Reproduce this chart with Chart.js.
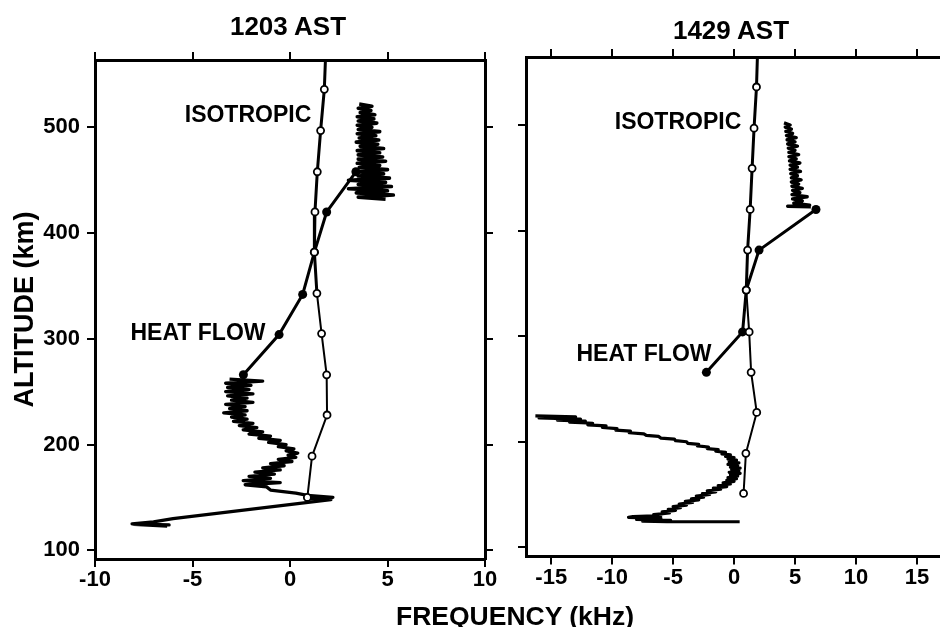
<!DOCTYPE html>
<html>
<head>
<meta charset="utf-8">
<title>Isotropic and heat flow frequency profiles</title>
<script src="https://cdn.jsdelivr.net/npm/chart.js@4.4.1/dist/chart.umd.min.js"></script>
<style>
  body { margin: 0; background: #fff; width: 945px; height: 627px; overflow: hidden; position: relative;
         font-family: "Liberation Sans", Arial, sans-serif; font-weight: bold; color: #000; }
  canvas { position: absolute; top: 0; }
  .lbl { position: absolute; line-height: 1; white-space: nowrap; transform: translate(-50%, -50%); }
</style>
</head>
<body>
<canvas id="chartLeft" width="520" height="627" style="left:0"></canvas>
<canvas id="chartRight" width="445" height="627" style="left:500px"></canvas>

<div class="lbl" style="left:288px; top:25.5px; font-size:26px">1203 AST</div>
<div class="lbl" style="left:731px; top:30px; font-size:26px">1429 AST</div>
<div class="lbl" style="left:515px; top:616px; font-size:26.5px">FREQUENCY (kHz)</div>
<div class="lbl" style="left:248px; top:113.5px; font-size:23px">ISOTROPIC</div>
<div class="lbl" style="left:198px; top:331.5px; font-size:23px">HEAT FLOW</div>
<div class="lbl" style="left:678px; top:121px; font-size:23px">ISOTROPIC</div>
<div class="lbl" style="left:644px; top:353px; font-size:23px">HEAT FLOW</div>

<script>
// ---- 1203 AST (left panel) ----
const isoAltL  = [570, 536, 497, 458, 420, 382, 343, 305, 266, 228, 189, 150];
const isoFreqL = [1.83, 1.76, 1.57, 1.40, 1.28, 1.25, 1.38, 1.62, 1.88, 1.90, 1.13, 0.89];

const hfAltL  = [458, 420, 382, 342, 304, 266];
const hfFreqL = [3.38, 1.88, 1.25, 0.65, -0.56, -2.39];

// measured trace above the heat flow points
const traceAltL1  = [522, 520, 518, 516, 514, 512, 510, 508, 506, 504, 502, 500, 498, 496, 494, 492,
                     490, 488, 486, 484, 482, 480, 478, 476, 474, 472, 470, 468, 466, 464, 462, 460,
                     458, 456, 454, 452, 450, 448, 446, 444, 442, 440, 438, 436, 434, 432];
const traceFreqL1 = [3.55, 4.2, 3.5, 4.15, 3.6, 4.35, 3.45, 4.3, 3.5, 4.45, 3.45, 4.2, 3.5, 4.6, 3.45, 4.4,
                     3.55, 4.55, 3.4, 4.5, 3.6, 4.8, 3.45, 4.6, 3.5, 4.75, 3.5, 4.9, 3.45, 4.6, 3.55, 5.0,
                     3.4, 4.8, 3.5, 5.1, 3.0, 4.9, 3.5, 5.2, 3.0, 5.0, 3.4, 5.3, 3.5, 4.9];

// measured trace below the heat flow points
const traceAltL2  = [262, 260, 258, 256, 254, 252, 250, 248, 246, 244, 242, 240, 238, 236, 234, 232,
                     230, 228, 226, 224, 222, 220, 218, 216, 214, 212, 210, 208, 206, 204, 202, 200,
                     198, 196, 194, 192, 190, 188, 186, 184, 182, 180, 178, 176, 174, 172, 170, 168,
                     166, 164, 162, 160, 157, 154, 152, 150, 149, 148, 130, 127, 125, 124, 124.5, 123];
const traceFreqL2 = [-3.1, -1.4, -3.3, -2.0, -3.2, -2.1, -3.3, -1.9, -3.2, -2.2, -3.0, -1.9, -3.3, -2.3, -3.1, -2.2,
                     -3.4, -2.3, -3.0, -2.2, -2.9, -1.9, -2.6, -1.7, -2.4, -1.4, -2.1, -1.0, -1.6, -0.5, -1.1, -0.2,
                     -0.6, 0.2, -0.2, 0.4, -0.1, 0.3, -0.6, 0.1, -1.0, -0.3, -1.4, -0.5, -1.8, -0.8, -2.1, -1.0,
                     -2.4, -0.5, -2.3, -1.2, -1.0, 0.3, 0.9, 2.2, 1.0, 2.1, -6.0, -7.0, -8.1, -6.2, -8.0, -6.3];

// ---- 1429 AST (right panel) ----
const isoAltR  = [570, 536, 497, 459, 420, 381.5, 343.6, 304, 265.7, 227.8, 189, 151];
const isoFreqR = [1.93, 1.84, 1.64, 1.48, 1.32, 1.11, 1.00, 1.24, 1.40, 1.86, 0.97, 0.78];

const hfAltR  = [420, 381.5, 343.6, 304, 265.7];
const hfFreqR = [6.72, 2.05, 1.00, 0.70, -2.27];

const traceAltR1  = [502, 500, 498, 496, 494, 492, 490, 488, 486, 484, 482, 480, 478, 476, 474, 472,
                     470, 468, 466, 464, 462, 460, 458, 456, 454, 452, 450, 448, 446, 444, 442, 440,
                     438, 436, 434, 432, 430, 428, 426, 424, 423, 422.5];
const traceFreqR1 = [4.1, 4.6, 4.2, 4.7, 4.25, 4.8, 4.3, 5.1, 4.35, 5.0, 4.4, 5.2, 4.45, 5.0, 4.5, 5.3,
                     4.5, 5.1, 4.55, 5.4, 4.6, 5.2, 4.6, 5.45, 4.65, 5.2, 4.7, 5.5, 4.7, 5.3, 4.75, 5.6,
                     4.8, 5.4, 4.75, 6.0, 4.8, 5.6, 4.9, 6.2, 4.4, 6.3];

const traceAltR2  = [224.5, 223.5, 222.5, 221.5, 220.5, 219.5, 218.5, 217.5, 216, 215, 213.5, 212.5, 211, 210,
                     208.5, 207.5, 206, 205, 203.5, 202.5, 201, 200, 198.5, 197.5, 196, 195, 193.5, 192.5,
                     191, 190, 188.5, 187.5, 186, 185, 183.5, 182.5, 181, 180, 178.5, 177.5, 176, 175,
                     173.5, 172.5, 171, 170, 168.5, 167.5, 166, 165, 163.5, 162.5, 161, 160, 158.5, 157.5,
                     156, 155, 153.5, 152.5, 151, 150, 148.5, 147.5, 146, 145, 143.5, 142.5, 141, 140,
                     138.5, 137.5, 136, 135, 133.5, 132.5, 131, 130, 129, 128.4, 127.5, 126.5, 125.5, 124.8,
                     124.2, 124.2];
const traceFreqR2 = [-16.3, -13.0, -16.0, -12.6, -14.5, -12.2, -13.5, -11.6, -12.0, -10.5, -10.8, -9.6, -9.7, -8.5,
                     -8.6, -7.4, -7.2, -6.2, -6.0, -4.9, -4.8, -3.9, -3.8, -2.9, -3.0, -2.1, -2.2, -1.3,
                     -1.5, -0.7, -1.0, -0.3, -0.7, 0.0, -0.5, 0.2, -0.4, 0.4, -0.5, 0.3, -0.3, 0.5,
                     -0.2, 0.4, -0.4, 0.5, -0.3, 0.3, -0.5, 0.2, -0.6, 0.0, -0.9, -0.3, -1.3, -0.6,
                     -1.7, -1.1, -2.2, -1.5, -2.6, -2.0, -3.1, -2.5, -3.5, -2.9, -4.0, -3.4, -4.5, -3.9,
                     -5.0, -4.4, -5.4, -4.8, -5.9, -5.3, -6.6, -6.0, -8.3, -8.66, -6.0, -8.0, -5.2, -7.5,
                     -5.5, 0.46];

const altTicks = [100, 200, 300, 400, 500];

Chart.defaults.font.family = '"Liberation Sans", Arial, sans-serif';
Chart.defaults.color = '#000';

function pts(alt, freq) {
  return alt.map((a, i) => ({ x: freq[i], y: a }));
}

function isoSet(alt, freq) {
  return {
    data: pts(alt, freq),
    showLine: true,
    borderColor: '#000',
    borderWidth: 2,
    segment: { borderWidth: c => (c.p1.parsed.y >= 340 ? 3 : 2) },
    pointRadius: c => (c.raw && c.raw.y > 560 ? 0 : 3.5),
    pointBackgroundColor: '#fff',
    pointBorderColor: '#000',
    pointBorderWidth: 1.8
  };
}

function hfSet(alt, freq) {
  return {
    data: pts(alt, freq),
    showLine: true,
    borderColor: '#000',
    borderWidth: 3,
    pointRadius: 4.5,
    pointBackgroundColor: '#000',
    pointBorderColor: '#000',
    pointBorderWidth: 0
  };
}

function traceSet(alt, freq, width) {
  return {
    data: pts(alt, freq),
    showLine: true,
    borderColor: '#000',
    borderWidth: width,
    borderJoinStyle: 'round',
    pointRadius: 0
  };
}

// axis helpers: black frame, outward tick marks, no grid inside
const tickGrid = { drawOnChartArea: false, drawTicks: true, tickLength: 8, lineWidth: 2, color: '#000' };
const frame = { display: true, width: 3, color: '#000' };
const tickFont = { size: 22, weight: 'bold' };

function xAxis(pos, min, max, size, showLabels) {
  return {
    type: 'linear', position: pos, min: min, max: max,
    ticks: { display: showLabels, stepSize: 5, includeBounds: false, padding: 0, font: tickFont, maxRotation: 0 },
    grid: tickGrid, border: frame,
    afterFit: s => { s.height = size; }
  };
}

function yAxis(pos, min, max, size, showLabels, title) {
  return {
    type: 'linear', position: pos, min: min, max: max,
    afterBuildTicks: s => { s.ticks = altTicks.map(v => ({ value: v })); },
    ticks: { display: showLabels, padding: 7, font: tickFont },
    grid: tickGrid, border: frame,
    title: title ? { display: true, text: title, font: { size: 27, weight: 'bold' }, padding: { top: 9, bottom: 0 } } : { display: false },
    afterFit: s => { s.width = size; }
  };
}

const baseOptions = {
  responsive: false,
  animation: false,
  devicePixelRatio: 1,
  layout: { padding: 0 },
  plugins: { legend: { display: false }, tooltip: { enabled: false } }
};

// Left panel
new Chart(document.getElementById('chartLeft'), {
  type: 'scatter',
  data: {
    datasets: [
      isoSet(isoAltL, isoFreqL),
      hfSet(hfAltL, hfFreqL),
      traceSet(traceAltL1, traceFreqL1, 3.6),
      traceSet(traceAltL2, traceFreqL2, 3.3)
    ]
  },
  options: Object.assign({}, baseOptions, {
    scales: {
      x: xAxis('bottom', -10, 10, 68, true),
      x2: xAxis('top', -10, 10, 60, false),
      y: yAxis('left', 91.8, 563.7, 95, true, 'ALTITUDE (km)'),
      y2: yAxis('right', 91.8, 563.7, 35, false, null)
    }
  })
});

// Right panel
new Chart(document.getElementById('chartRight'), {
  type: 'scatter',
  data: {
    datasets: [
      isoSet(isoAltR, isoFreqR),
      hfSet(hfAltR, hfFreqR),
      traceSet(traceAltR1, traceFreqR1, 3.4),
      traceSet(traceAltR2, traceFreqR2, 3.2)
    ]
  },
  options: Object.assign({}, baseOptions, {
    scales: {
      x: xAxis('bottom', -17.07, 16.83, 70.5, true),
      x2: xAxis('top', -17.07, 16.83, 57, false),
      y: yAxis('left', 91.3, 564.4, 26, false, null)
    }
  })
});
</script>
</body>
</html>
